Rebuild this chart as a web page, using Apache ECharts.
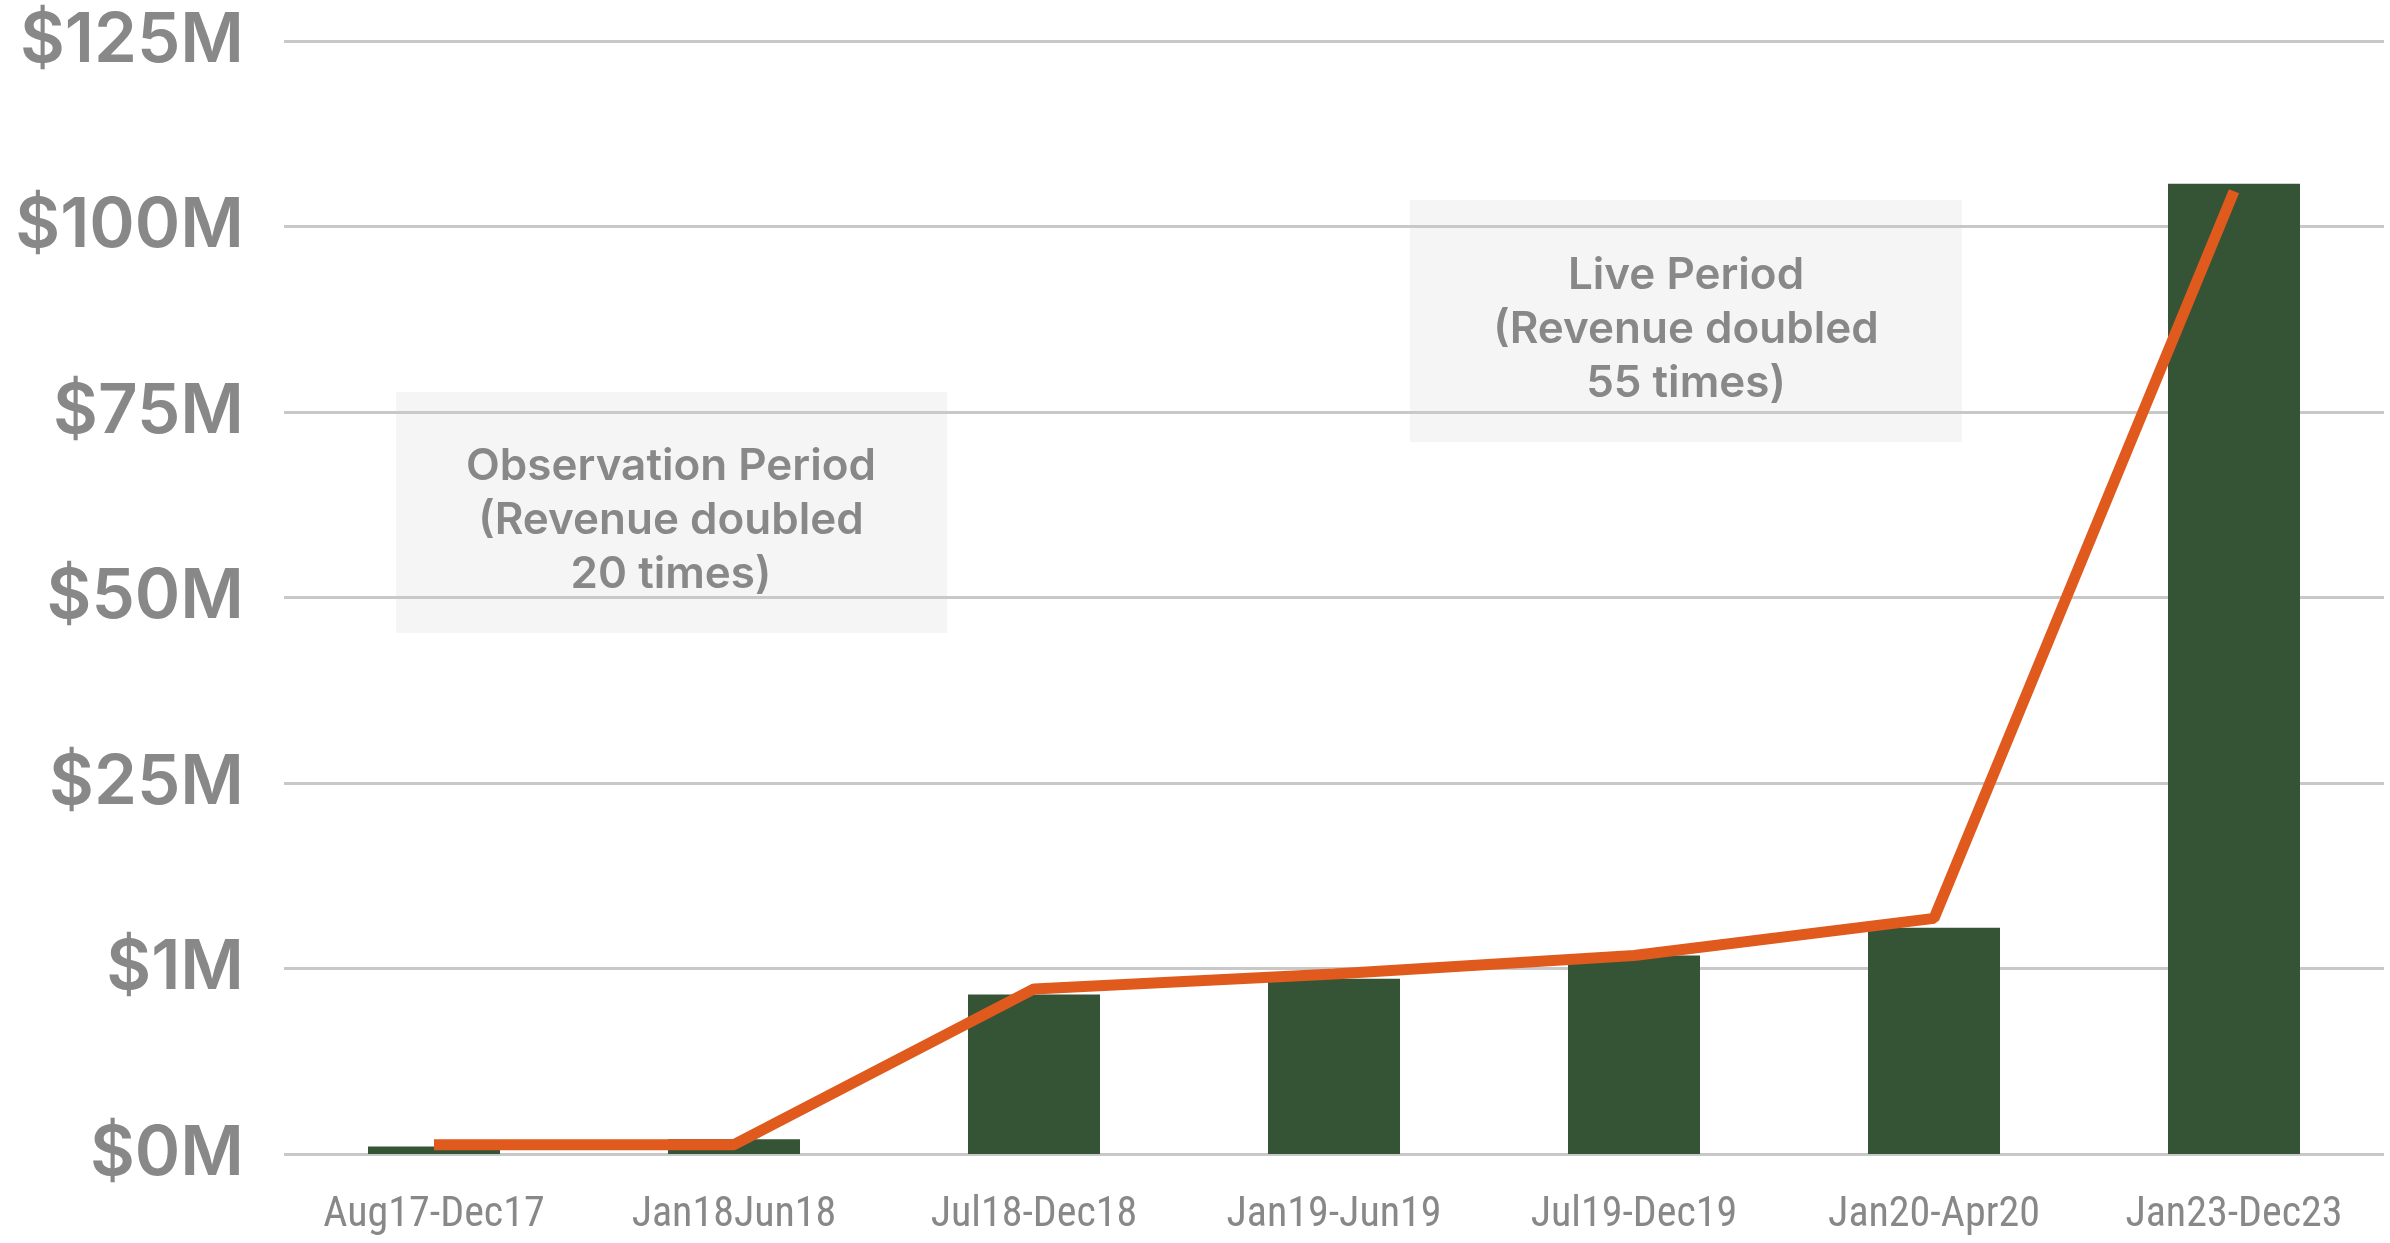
<!DOCTYPE html>
<html lang="en">
<head>
  <meta charset="UTF-8">
  <title>Revenue periods</title>
  <script src="https://cdn.jsdelivr.net/npm/echarts@6/dist/echarts.min.js"></script>
  <style>
    html, body { margin: 0; padding: 0; background: #fff; }
    #chart { width: 2390px; height: 1243px; }
  </style>
</head>
<body>
  <div id="chart"></div>
  <script>
    // categories on the x axis
    var periods = ['Aug17-Dec17', 'Jan18Jun18', 'Jul18-Dec18', 'Jan19-Jun19', 'Jul19-Dec19', 'Jan20-Apr20', 'Jan23-Dec23'];

    // the y axis is not linear: every gridline step is one unit, labelled below
    var tickLabels = ['$0M', '$1M', '$25M', '$50M', '$75M', '$100M', '$125M'];

    // values in axis units
    var barValues = [0.04, 0.08, 0.86, 0.945, 1.07, 1.22, 5.23];
    var lineValues = [0.05, 0.05, 0.89, 0.97, 1.07, 1.27, 5.19];

    var grey = '#888888';
    var myChart = echarts.init(document.getElementById('chart'));

    var option = {
      animation: false,
      grid: { left: 284, right: 6, top: 41, bottom: 89, containLabel: false },
      xAxis: {
        type: 'category',
        data: periods,
        axisLine: { show: false },
        axisTick: { show: false },
        axisLabel: {
          color: grey,
          fontFamily: '"Liberation Sans Narrow", "Roboto Condensed", "DejaVu Sans Condensed", sans-serif',
          fontSize: 42,
          margin: 40
        }
      },
      yAxis: {
        type: 'value',
        min: 0,
        max: 6,
        interval: 1,
        axisLine: { show: false },
        axisTick: { show: false },
        splitLine: { lineStyle: { color: '#c8c8c8', width: 3 } },
        axisLabel: {
          color: grey,
          fontFamily: 'Inter, "Noto Sans", sans-serif',
          fontWeight: 600,
          fontSize: 69,
          margin: 40,
          formatter: function (v) { return tickLabels[v]; }
        }
      },
      series: [{
        name: 'Revenue',
        type: 'bar',
        data: barValues,
        barWidth: '44%',
        itemStyle: { color: '#355436' },
        z: 2
      }, {
        name: 'Trend',
        type: 'line',
        data: lineValues,
        showSymbol: false,
        symbol: 'none',
        lineStyle: { color: '#E05A1E', width: 11 },
        z: 3
      }],
      graphic: [{
        type: 'group',
        left: 396,
        top: 392,
        children: [{
          type: 'rect',
          shape: { x: 0, y: 0, width: 551, height: 241 },
          style: { fill: '#f5f5f5' }
        }, {
          type: 'text',
          x: 275,
          y: 129,
          style: {
            text: 'Observation Period\n(Revenue doubled\n20 times)',
            fill: grey,
            fontFamily: 'Inter, "Noto Sans", sans-serif',
            fontWeight: 600,
            fontSize: 44,
            lineHeight: 54,
            align: 'center',
            verticalAlign: 'middle'
          }
        }]
      }, {
        type: 'group',
        left: 1410,
        top: 200,
        children: [{
          type: 'rect',
          shape: { x: 0, y: 0, width: 552, height: 242 },
          style: { fill: '#f5f5f5' }
        }, {
          type: 'text',
          x: 276,
          y: 130,
          style: {
            text: 'Live Period\n(Revenue doubled\n55 times)',
            fill: grey,
            fontFamily: 'Inter, "Noto Sans", sans-serif',
            fontWeight: 600,
            fontSize: 44,
            lineHeight: 54,
            align: 'center',
            verticalAlign: 'middle'
          }
        }]
      }]
    };

    myChart.setOption(option);
  </script>
</body>
</html>
